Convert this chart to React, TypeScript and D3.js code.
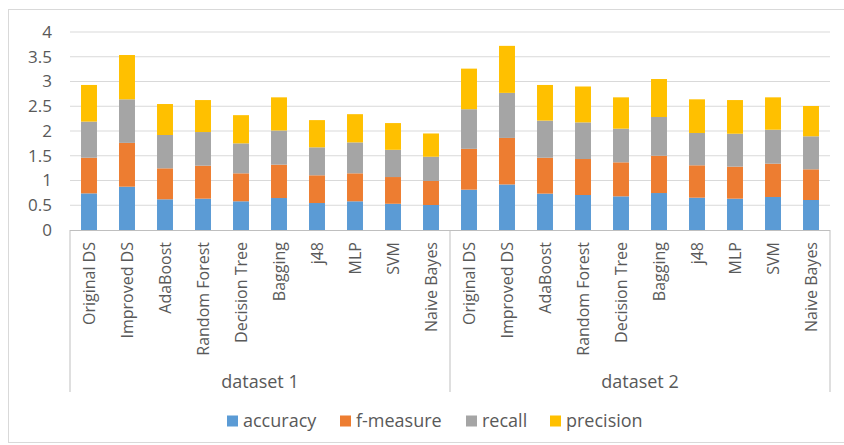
import React from "react";
import * as d3 from "d3";

const groups = ["dataset 1", "dataset 2"];
const methods = ["Original DS", "Improved DS", "AdaBoost", "Random Forest", "Decision Tree", "Bagging", "j48", "MLP", "SVM", "Naive Bayes"];
const seriesNames = ["accuracy", "f-measure", "recall", "precision"];
const seriesColors = ["#5B9BD5", "#ED7D31", "#A5A5A5", "#FFC000"];

// values per group, per method
const accuracy1 = [0.74, 0.875, 0.62, 0.633, 0.58, 0.646, 0.545, 0.58, 0.53, 0.505];
const fmeasure1 = [0.72, 0.885, 0.626, 0.666, 0.565, 0.674, 0.56, 0.565, 0.54, 0.485];
const recall1 = [0.73, 0.88, 0.673, 0.68, 0.605, 0.69, 0.565, 0.625, 0.55, 0.49];
const precision1 = [0.74, 0.895, 0.626, 0.646, 0.57, 0.67, 0.55, 0.57, 0.54, 0.47];

const accuracy2 = [0.815, 0.92, 0.735, 0.707, 0.68, 0.747, 0.653, 0.633, 0.667, 0.606];
const fmeasure2 = [0.825, 0.94, 0.725, 0.727, 0.687, 0.753, 0.654, 0.647, 0.673, 0.62];
const recall2 = [0.80, 0.91, 0.75, 0.74, 0.68, 0.783, 0.653, 0.665, 0.686, 0.667];
const precision2 = [0.82, 0.95, 0.72, 0.725, 0.633, 0.767, 0.68, 0.68, 0.654, 0.612];

const yTicks = [0, 0.5, 1, 1.5, 2, 2.5, 3, 3.5, 4];

const FONT = "'Open Sans', sans-serif";

export default function App() {
  const W = 844, H = 445;
  const left = 70, right = 830, top = 32, bottom = 230;

  const rows = [
    [accuracy1, fmeasure1, recall1, precision1],
    [accuracy2, fmeasure2, recall2, precision2],
  ];
  const table: any[] = [];
  groups.forEach((g, gi) => {
    methods.forEach((m, mi) => {
      const rec: any = { key: `${gi}-${mi}`, group: g, method: m };
      seriesNames.forEach((s, si) => (rec[s] = rows[gi][si][mi]));
      table.push(rec);
    });
  });

  const x = d3.scaleBand<string>().domain(table.map((d) => d.key)).range([left, right]).padding(0);
  const y = d3.scaleLinear().domain([0, 4]).range([bottom, top]);
  const stack = d3.stack<any>().keys(seriesNames);
  const stacked = stack(table);
  const barW = x.bandwidth() * 0.42;
  const groupW = (right - left) / groups.length;

  const legendX = [227, 340, 466, 550];

  return (
    <svg width={W} height={H} style={{ position: "absolute", left: 0, top: 0, background: "#fff" }} fontFamily={FONT}>
      <rect x={8.5} y={9.5} width={W} height={433} fill="#fff" stroke="#d9d9d9" strokeWidth={1} />
      {yTicks.map((t) => (
        <g key={t}>
          {t > 0 && <line x1={left} x2={right} y1={y(t)} y2={y(t)} stroke="#d9d9d9" strokeWidth={1} />}
          <text x={52} y={y(t)} dy="0.35em" textAnchor="end" fontSize={17} fill="#595959">
            {t}
          </text>
        </g>
      ))}
      {stacked.map((layer, si) => (
        <g key={layer.key} fill={seriesColors[si]}>
          {layer.map((d: any, i: number) => (
            <rect
              key={i}
              x={(x(table[i].key) as number) + (x.bandwidth() - barW) / 2}
              width={barW}
              y={y(d[1])}
              height={y(d[0]) - y(d[1])}
            />
          ))}
        </g>
      ))}
      <line x1={left} x2={right} y1={bottom + 0.5} y2={bottom + 0.5} stroke="#bfbfbf" />
      {[0, 1, 2].map((i) => (
        <line key={i} x1={left + i * groupW} x2={left + i * groupW} y1={bottom} y2={392} stroke="#bfbfbf" />
      ))}
      {table.map((d) => {
        const cx = (x(d.key) as number) + x.bandwidth() / 2 + 0.5;
        return (
          <text
            key={d.key}
            transform={`translate(${cx},242) rotate(-90)`}
            dy="0.35em"
            textAnchor="end"
            fontSize={16}
            fill="#595959"
          >
            {d.method}
          </text>
        );
      })}
      {groups.map((g, gi) => (
        <text key={g} x={left + groupW * (gi + 0.5)} y={382} dy="0.35em" textAnchor="middle" fontSize={18} fill="#595959">
          {g}
        </text>
      ))}
      {seriesNames.map((s, si) => (
        <g key={s} transform={`translate(${legendX[si]},421)`}>
          <rect x={0} y={-5.5} width={11} height={11} fill={seriesColors[si]} />
          <text x={16} y={0} dy="0.35em" fontSize={18} fill="#595959">
            {s}
          </text>
        </g>
      ))}
    </svg>
  );
}
